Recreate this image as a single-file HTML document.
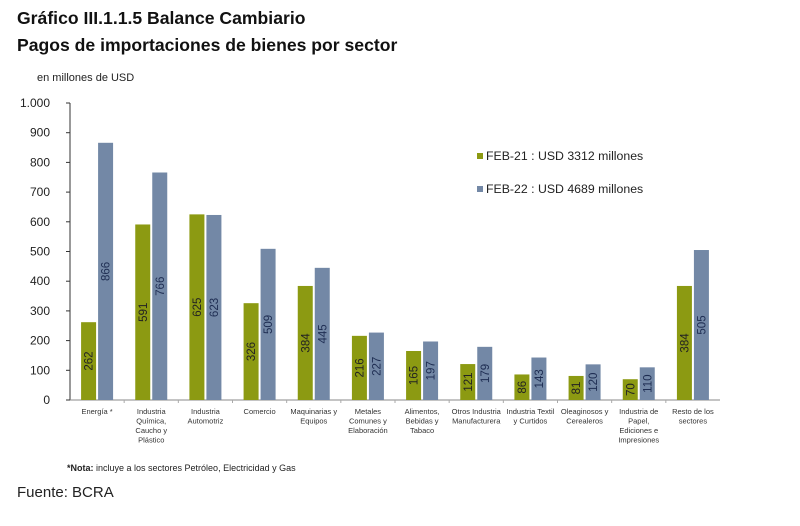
<!DOCTYPE html>
<html><head><meta charset="utf-8"><style>
body{margin:0;width:800px;height:526px;background:#fff;font-family:"Liberation Sans",sans-serif;overflow:hidden}
.t{position:absolute;left:17px;font-weight:bold;font-size:17.6px;color:#111}
</style></head><body>
<div class="t" style="top:8px">Gráfico III.1.1.5 Balance Cambiario</div>
<div class="t" style="top:35px">Pagos de importaciones de bienes por sector</div>
<svg id="c" width="800" height="526" style="position:absolute;left:0;top:0"></svg>
<div style="position:absolute;left:67px;top:463px;font-size:9px;color:#222"><b>*Nota:</b> incluye a los sectores Petróleo, Electricidad y Gas</div>
<div style="position:absolute;left:17px;top:484px;font-size:15px;color:#222">Fuente: BCRA</div>
<script>
const categories=[["Energía *"],["Industria","Química,","Caucho y","Plástico"],["Industria","Automotriz"],["Comercio"],["Maquinarias y","Equipos"],["Metales","Comunes y","Elaboración"],["Alimentos,","Bebidas y","Tabaco"],["Otros Industria","Manufacturera"],["Industria Textil","y Curtidos"],["Oleaginosos y","Cerealeros"],["Industria de","Papel,","Ediciones e","Impresiones"],["Resto de los","sectores"]];
const feb21=[262,591,625,326,384,216,165,121,86,81,70,384];
const feb22=[866,766,623,509,445,227,197,179,143,120,110,505];
const yTicks=[0,100,200,300,400,500,600,700,800,900,1000];
const yTickLabels=["0","100","200","300","400","500","600","700","800","900","1.000"];
const svg=document.getElementById('c');const NS='http://www.w3.org/2000/svg';
const x0=70,x1=720,yb=400,yt=103,n=categories.length,gw=(x1-x0)/n;
const y=v=>yb-(v/1000)*(yb-yt);
function mk(t,a,txt){const e=document.createElementNS(NS,t);for(const k in a)e.setAttribute(k,a[k]);if(txt!=null)e.textContent=txt;svg.appendChild(e);return e;}
let e=mk('text',{x:37,y:81,'font-size':11,fill:'#222'},'en millones de USD');


yTicks.forEach((v,i)=>{
 const l=mk('line',{x1:x0-4,x2:x0,y1:y(v),y2:y(v),stroke:'#333'});
 
 
 const t=mk('text',{x:50,y:y(v)+4,'font-size':12,fill:'#222','text-anchor':'end'},yTickLabels[i]);
 
 
});
e=mk('line',{x1:x0,x2:x0,y1:yt,y2:yb,stroke:'#333'});


e=mk('line',{x1:x0,x2:x1,y1:yb,y2:yb,stroke:'#888'});


const bw=15;
categories.forEach((c,i)=>{
 const cx=x0+gw*(i+0.5);
 if(i>0){const tk=mk('line',{x1:x0+gw*i,x2:x0+gw*i,y1:yb,y2:yb+3,stroke:'#aaa'});
 
 }
 [[feb21[i],cx-bw-1,'#8c9a12','#222','bar-feb21'],[feb22[i],cx+1,'#7388a6','#1e2d52','bar-feb22']].forEach(([v,bx,col,tc,nm])=>{
  const r=mk('rect',{x:bx,y:y(v),width:bw,height:yb-y(v),fill:col});
  
  
  const lx=bx+bw/2+4;
  const t=mk('text',{x:0,y:0,'font-size':11.5,fill:tc,'text-anchor':'middle',transform:`translate(${lx},${(y(v)+yb)/2}) rotate(-90)`},String(v));
  
  
 });
 c.forEach((ln,j)=>{
  const t=mk('text',{x:cx,y:414+j*9.5,'font-size':7.5,fill:'#333','text-anchor':'middle'},ln);
  
  
 });
});
[['#8c9a12','FEB-21 : USD 3312 millones',158],['#7388a6','FEB-22 : USD 4689 millones',191]].forEach(([col,txt,yy])=>{
 const r=mk('rect',{x:477,y:yy-5,width:6,height:6,fill:col});
 
 
 const t=mk('text',{x:486,y:yy+2,'font-size':12.3,fill:'#222'},txt);
 
 
});
</script>
</body></html>
